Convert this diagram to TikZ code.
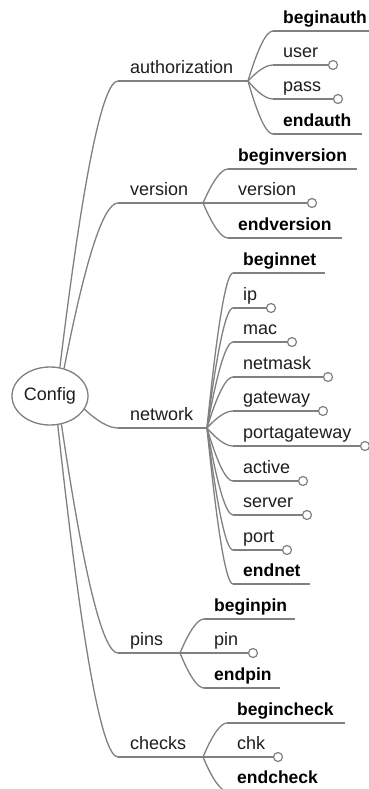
\documentclass[tikz,border=0pt]{standalone}
\usepackage{fontspec}
\setmainfont{Liberation Sans}
\usetikzlibrary{calc,shapes.geometric}
\definecolor{lc}{RGB}{128,128,128}
\definecolor{tc}{RGB}{30,30,30}
\newcommand\mmcurve[2]{\draw[conn] let \p1=(#1),\p2=(#2) in (#1) .. controls ({\x1+0.4*(\x2-\x1)},{\y1+0.6667*(\y2-\y1)}) and ({\x2-0.2667*(\x2-\x1)},\y2) .. (#2);}
\newcommand\mmmid[5]{%
  \coordinate (#1-s) at (118,-#3);
  \coordinate (#1-b) at (#4,-#3);
  \node[lbl] (#1) at (130,-#3+7.5) {#5};
  \mmcurve{#2}{#1-s}
  \draw[conn] (#1-s) -- (#1-b);}
\newcommand\mmend[6]{%
  \coordinate (#1-s) at (#4,-#3);
  \coordinate (#1-e) at (#5,-#3);
  \node[blbl] (#1) at (#4+10,-#3+7.5) {#6};
  \mmcurve{#2}{#1-s}
  \draw[conn] (#1-s) -- (#1-e);}
\newcommand\mmleaf[6]{%
  \coordinate (#1-s) at (#4,-#3);
  \node[lbl] (#1) at (#4+10,-#3+7.5) {#6};
  \mmcurve{#2}{#1-s}
  \draw[conn] (#1-s) -- (#5-4.5,-#3) coordinate (#1-e);
  \node[knob] (#1-c) at (#5,-#3) {};}
\begin{document}
\begin{tikzpicture}[x=1pt,y=1pt,
  conn/.style={draw=lc,line width=1.3pt},
  lbl/.style={anchor=base west,inner sep=0pt,text=tc,font=\fontsize{18}{20}\selectfont},
  blbl/.style={lbl,text=black,font=\fontsize{17.5}{20}\selectfont\bfseries},
  knob/.style={circle,draw=lc,fill=white,line width=1.2pt,minimum size=9pt,inner sep=0pt},
  root/.style={ellipse,draw=lc,fill=white,line width=1.3pt,minimum width=76pt,minimum height=58pt,inner sep=0pt,text=tc,font=\fontsize{18}{20}\selectfont}]
\fill[white] (0,0) rectangle (369,-789);
\clip (0,0) rectangle (369,-789);
\node[root] (config) at (50,-396) {Config};
% main branches
\mmmid{auth}{config.71}{81}{248}{authorization}
\mmmid{vers}{config.63}{203}{203}{version}
\mmmid{net}{config.-21}{428}{207}{network}
\mmmid{pins}{config.-68}{653}{180}{pins}
\mmmid{chks}{config.-75}{757}{203}{checks}
% authorization
\mmend{beginauth}{auth-b}{31}{273}{380}{beginauth}
\mmleaf{user}{auth-b}{65}{273}{333}{user}
\mmleaf{pass}{auth-b}{99}{273}{338}{pass}
\mmend{endauth}{auth-b}{134}{273}{362}{endauth}
% version
\mmend{beginversion}{vers-b}{169}{228}{357}{beginversion}
\mmleaf{verleaf}{vers-b}{203}{228}{312}{version}
\mmend{endversion}{vers-b}{238}{228}{342}{endversion}
% network
\mmend{beginnet}{net-b}{273}{233}{325}{beginnet}
\mmleaf{ip}{net-b}{308}{233}{271}{ip}
\mmleaf{mac}{net-b}{342}{233}{292}{mac}
\mmleaf{netmask}{net-b}{377}{233}{328}{netmask}
\mmleaf{gateway}{net-b}{411}{233}{323}{gateway}
\mmleaf{portagateway}{net-b}{446}{233}{365}{portagateway}
\mmleaf{active}{net-b}{481}{233}{303}{active}
\mmleaf{server}{net-b}{515}{233}{307}{server}
\mmleaf{port}{net-b}{550}{233}{287}{port}
\mmend{endnet}{net-b}{584}{233}{310}{endnet}
% pins
\mmend{beginpin}{pins-b}{619}{204}{295}{beginpin}
\mmleaf{pin}{pins-b}{653}{204}{253}{pin}
\mmend{endpin}{pins-b}{688}{204}{280}{endpin}
% checks
\mmend{begincheck}{chks-b}{723}{227}{345}{begincheck}
\mmleaf{chk}{chks-b}{757}{227}{278}{chk}
\mmend{endcheck}{chks-b}{791}{227}{330}{endcheck}
\end{tikzpicture}
\end{document}
